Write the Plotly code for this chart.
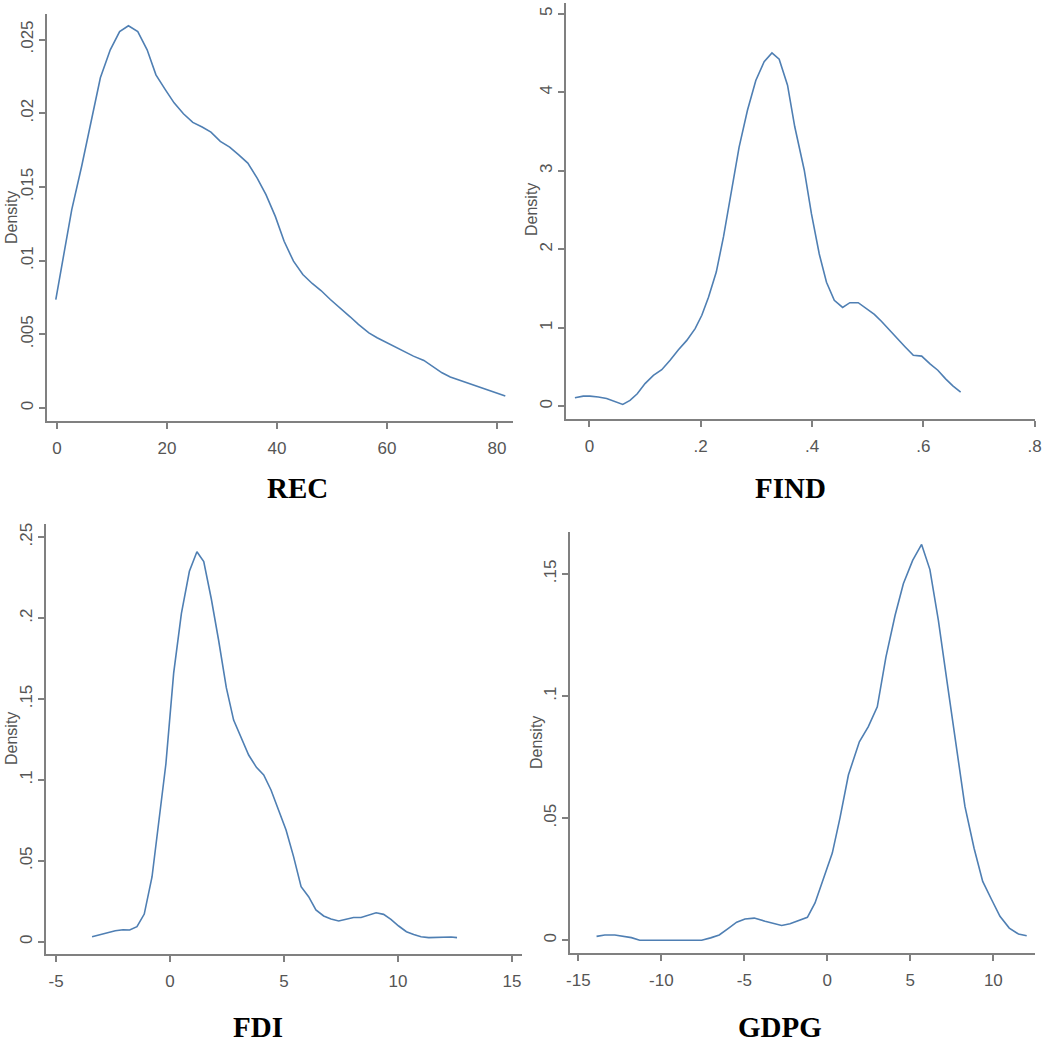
import plotly.graph_objects as go

# ---------------- data ----------------
rec_x = [-0.2, 1.2, 2.7, 4.5, 6.4, 7.9, 9.7, 11.4, 13.0, 14.7, 16.4, 18.0, 19.7, 21.3, 23.0,
         24.7, 26.4, 28.0, 29.7, 31.4, 33.0, 34.7, 36.4, 38.0, 39.7, 41.3, 43.0, 44.7, 46.4,
         48.0, 49.7, 51.5, 53.3, 54.8, 56.7, 58.2, 60.0, 61.5, 63.3, 64.8, 66.7, 68.2, 70.0,
         71.5, 73.3, 74.8, 76.7, 78.2, 80.0, 81.5]
rec_y = [0.00736, 0.0103, 0.01346, 0.0164, 0.0198, 0.0224, 0.0243, 0.02554, 0.02593, 0.02554,
         0.0243, 0.0226, 0.0216, 0.0207, 0.01996, 0.01938, 0.01906, 0.01872, 0.01809, 0.0177,
         0.01719, 0.01662, 0.0156, 0.01448, 0.0130, 0.01131, 0.00996, 0.00906, 0.00845, 0.00797,
         0.00736, 0.0068, 0.00619, 0.00567, 0.0051, 0.00477, 0.00443, 0.00409, 0.00375, 0.00352,
         0.00323, 0.00285, 0.00239, 0.0021, 0.00187, 0.00167, 0.00145, 0.00126, 0.00104, 0.00081]

find_x = [-0.026, -0.011, 0.001, 0.016, 0.031, 0.046, 0.060, 0.073, 0.086, 0.100, 0.115, 0.130,
          0.145, 0.160, 0.175, 0.190, 0.202, 0.214, 0.228, 0.241, 0.256, 0.269, 0.284, 0.299,
          0.314, 0.328, 0.341, 0.356, 0.369, 0.386, 0.399, 0.413, 0.426, 0.440, 0.455, 0.468,
          0.483, 0.498, 0.512, 0.525, 0.539, 0.553, 0.567, 0.582, 0.597, 0.612, 0.626, 0.640,
          0.653, 0.667]
find_y = [0.11, 0.13, 0.13, 0.12, 0.10, 0.064, 0.025, 0.076, 0.16, 0.29, 0.395, 0.467, 0.586,
          0.72, 0.84, 0.99, 1.16, 1.39, 1.71, 2.16, 2.75, 3.30, 3.77, 4.15, 4.39, 4.50, 4.42,
          4.09, 3.56, 3.01, 2.45, 1.94, 1.58, 1.35, 1.26, 1.32, 1.32, 1.24, 1.17, 1.08, 0.97,
          0.86, 0.76, 0.65, 0.64, 0.54, 0.46, 0.35, 0.26, 0.18]

fdi_x = [-3.42, -2.76, -2.40, -2.06, -1.77, -1.45, -1.13, -0.79, -0.50, -0.18, 0.16, 0.50, 0.85,
         1.18, 1.48, 1.81, 2.13, 2.47, 2.79, 3.11, 3.45, 3.79, 4.11, 4.43, 4.77, 5.09, 5.42,
         5.75, 6.08, 6.40, 6.74, 7.06, 7.40, 7.72, 8.05, 8.38, 8.71, 9.04, 9.37, 9.69, 10.03,
         10.37, 10.69, 11.01, 11.35, 11.67, 12.01, 12.33, 12.59]
fdi_y = [0.0031, 0.0052, 0.0068, 0.0074, 0.0072, 0.0093, 0.0171, 0.040, 0.073, 0.110, 0.166,
         0.203, 0.229, 0.241, 0.235, 0.212, 0.1865, 0.157, 0.137, 0.127, 0.1154, 0.1078, 0.1031,
         0.0938, 0.0814, 0.069, 0.0526, 0.034, 0.0278, 0.0196, 0.0159, 0.0140, 0.0128, 0.0140,
         0.0150, 0.0150, 0.0165, 0.0179, 0.0169, 0.0138, 0.0097, 0.0062, 0.0045, 0.0031, 0.0025,
         0.0027, 0.0031, 0.0029, 0.0025]

gdpg_x = [-13.9, -13.4, -12.8, -12.3, -11.8, -11.3, -10.7, -10.0, -9.0, -8.2, -7.57, -7.03,
          -6.51, -5.96, -5.46, -4.96, -4.40, -3.75, -3.25, -2.75, -2.25, -1.75, -1.20, -0.74,
          -0.24, 0.30, 0.76, 1.27, 1.93, 2.47, 3.01, 3.53, 4.08, 4.58, 5.14, 5.68, 6.18, 6.69,
          7.23, 7.79, 8.29, 8.84, 9.36, 9.90, 10.40, 10.96, 11.51, 12.01]
gdpg_y = [0.0016, 0.0022, 0.0022, 0.0018, 0.0011, 0.0, 0.0, 0.0, 0.0, 0.0, 0.0, 0.0010, 0.0022,
          0.0049, 0.0074, 0.0087, 0.0091, 0.0078, 0.0071, 0.0061, 0.0068, 0.0080, 0.0094, 0.0153,
          0.0248, 0.0357, 0.050, 0.0677, 0.0813, 0.0875, 0.0956, 0.116, 0.133, 0.146, 0.1556,
          0.1621, 0.1518, 0.131, 0.105, 0.0793, 0.0548, 0.0377, 0.0241, 0.0166, 0.0098, 0.0050,
          0.0026, 0.0019]

titles = ["REC", "FIND", "FDI", "GDPG"]
y_label = "Density"

rec_xticks = [0, 20, 40, 60, 80]
rec_xtext = ["0", "20", "40", "60", "80"]
rec_yticks = [0, 0.005, 0.01, 0.015, 0.02, 0.025]
rec_ytext = ["0", ".005", ".01", ".015", ".02", ".025"]

find_xticks = [0, 0.2, 0.4, 0.6, 0.8]
find_xtext = ["0", ".2", ".4", ".6", ".8"]
find_yticks = [0, 1, 2, 3, 4, 5]
find_ytext = ["0", "1", "2", "3", "4", "5"]

fdi_xticks = [-5, 0, 5, 10, 15]
fdi_xtext = ["-5", "0", "5", "10", "15"]
fdi_yticks = [0, 0.05, 0.1, 0.15, 0.2, 0.25]
fdi_ytext = ["0", ".05", ".1", ".15", ".2", ".25"]

gdpg_xticks = [-15, -10, -5, 0, 5, 10]
gdpg_xtext = ["-15", "-10", "-5", "0", "5", "10"]
gdpg_yticks = [0, 0.05, 0.1, 0.15]
gdpg_ytext = ["0", ".05", ".1", ".15"]

# ---------------- figure ----------------
W, H = 1052, 1050
LINE = "#4f7fb3"
AXC = "#808080"
TXT = "#555555"
TICKFONT = dict(family="Arial, Liberation Sans, sans-serif", size=17, color=TXT)

panels = [
    dict(x=rec_x, y=rec_y, xt=rec_xticks, xtt=rec_xtext, yt=rec_yticks, ytt=rec_ytext,
         px=(47, 513), py=(14, 421), xr=(-1.8, 82.9), yr=(-0.00088, 0.02673),
         title_xy=(297, 488), dens_xy=(12, 218)),
    dict(x=find_x, y=find_y, xt=find_xticks, xtt=find_xtext, yt=find_yticks, ytt=find_ytext,
         px=(566, 1035), py=(3, 419), xr=(-0.042, 0.8006), yr=(-0.161, 5.136),
         title_xy=(790, 488), dens_xy=(532, 210)),
    dict(x=fdi_x, y=fdi_y, xt=fdi_xticks, xtt=fdi_xtext, yt=fdi_yticks, ytt=fdi_ytext,
         px=(46, 522), py=(524, 954), xr=(-5.44, 15.44), yr=(-0.0076, 0.2582),
         title_xy=(258, 1027), dens_xy=(11, 739)),
    dict(x=gdpg_x, y=gdpg_y, xt=gdpg_xticks, xtt=gdpg_xtext, yt=gdpg_yticks, ytt=gdpg_ytext,
         px=(570, 1035), py=(532, 953), xr=(-15.5, 12.51), yr=(-0.0052, 0.1672),
         title_xy=(780, 1027), dens_xy=(536, 743)),
]

fig = go.Figure()
annotations = []
for i, p in enumerate(panels):
    n = "" if i == 0 else str(i + 1)
    fig.add_trace(go.Scatter(x=p["x"], y=p["y"], mode="lines",
                             line=dict(color=LINE, width=1.6),
                             xaxis="x" + n, yaxis="y" + n, showlegend=False,
                             hoverinfo="skip"))
    xdom = [p["px"][0] / W, p["px"][1] / W]
    ydom = [1 - p["py"][1] / H, 1 - p["py"][0] / H]
    common = dict(showline=True, linecolor=AXC, linewidth=1.5,
                  ticks="outside", ticklen=6, tickcolor=AXC, tickwidth=1.5,
                  showgrid=False, zeroline=False, tickfont=TICKFONT,
                  automargin=False, tickmode="array")
    fig.update_layout(**{
        "xaxis" + n: dict(domain=xdom, range=list(p["xr"]), anchor="y" + n,
                          tickvals=p["xt"], ticktext=p["xtt"],
                          ticklabelstandoff=5, **common),
        "yaxis" + n: dict(domain=ydom, range=list(p["yr"]), anchor="x" + n,
                          tickvals=p["yt"], ticktext=p["ytt"],
                          ticklabelstandoff=-1,
                          tickangle=-90, **common),
    })
    annotations.append(dict(text="<b>" + titles[i] + "</b>", xref="paper", yref="paper",
                            x=p["title_xy"][0] / W, y=1 - p["title_xy"][1] / H,
                            xanchor="center", yanchor="middle", showarrow=False,
                            font=dict(family="Times New Roman, Liberation Serif, serif",
                                      size=29, color="black")))
    annotations.append(dict(text=y_label, xref="paper", yref="paper",
                            x=p["dens_xy"][0] / W, y=1 - p["dens_xy"][1] / H,
                            xanchor="center", yanchor="middle", showarrow=False,
                            textangle=-90,
                            font=dict(family="Arial, Liberation Sans, sans-serif",
                                      size=16, color=TXT)))

fig.update_layout(width=W, height=H, margin=dict(l=0, r=0, t=0, b=0, autoexpand=False),
                  paper_bgcolor="white", plot_bgcolor="white",
                  annotations=annotations)

fig.write_html("out.html", config={"displayModeBar": False},
               post_script="document.body.style.margin='0';document.body.style.padding='0';")
